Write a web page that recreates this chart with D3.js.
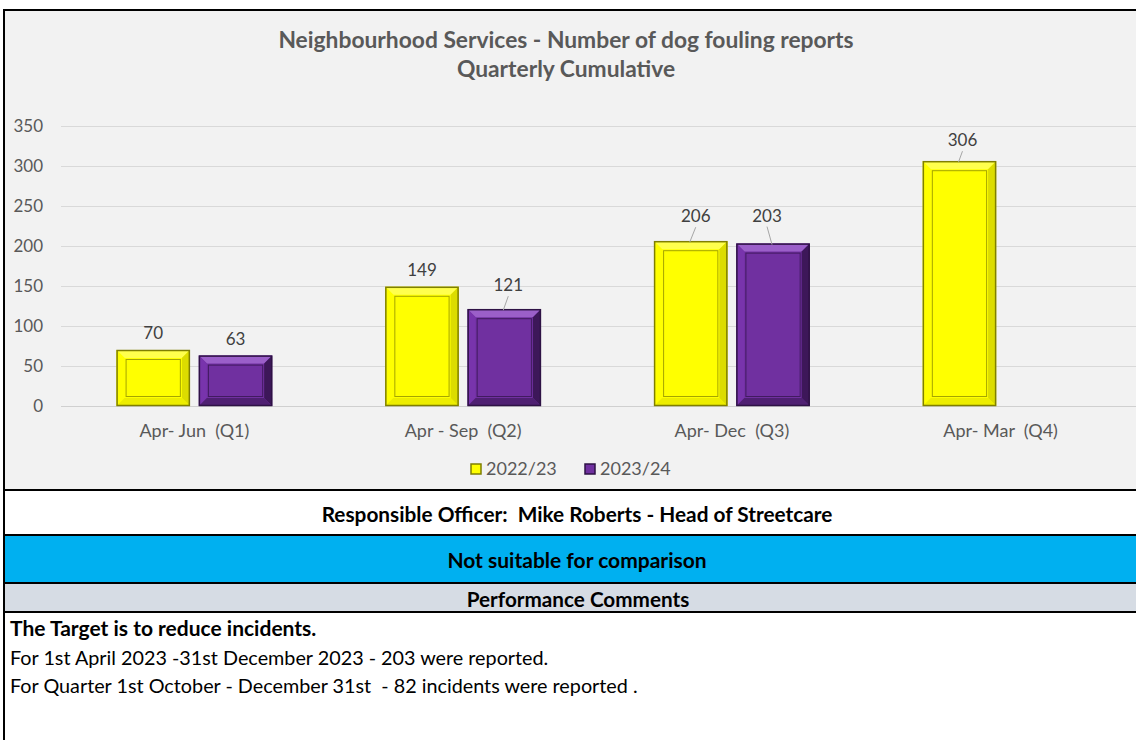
<!DOCTYPE html>
<html>
<head>
<meta charset="utf-8">
<script src="https://cdn.jsdelivr.net/npm/d3@7"></script>
<style>
  body { margin: 0; background: #fff; }
  text { font-family: Lato, "Open Sans", sans-serif; }
</style>
</head>
<body>
<div id="chart"></div>
<script>
// data
var quarters = ["Apr- Jun  (Q1)", "Apr - Sep  (Q2)", "Apr- Dec  (Q3)", "Apr- Mar  (Q4)"];
var seriesNames = ["2022/23", "2023/24"];
var values2022 = [70, 149, 206, 306];
var values2023 = [63, 121, 203, null];
var yTicks = [0, 50, 100, 150, 200, 250, 300, 350];
var seriesColors = ["#ffff00", "#7030a0"];

var titleLines = ["Neighbourhood Services - Number of dog fouling reports", "Quarterly Cumulative"];
var officerText = "Responsible Officer:  Mike Roberts - Head of Streetcare";
var comparisonText = "Not suitable for comparison";
var commentsHeader = "Performance Comments";
var commentLines = [
  "The Target is to reduce incidents.",
  "For 1st April 2023 -31st December 2023 - 203 were reported.",
  "For Quarter 1st October - December 31st  - 82 incidents were reported ."
];

var W = 1136, H = 740;

var svg = d3.select("#chart")
            .append("svg")
            .attr("width", W)
            .attr("height", H);

// ---- panels / table rows
svg.append("rect").attr("x", 0).attr("y", 0).attr("width", W).attr("height", H).attr("fill", "#fff");
svg.append("rect").attr("x", 5).attr("y", 11).attr("width", W - 5).attr("height", 479).attr("fill", "#f2f2f2");
svg.append("rect").attr("x", 5).attr("y", 536).attr("width", W - 5).attr("height", 47).attr("fill", "#00b0f0");
svg.append("rect").attr("x", 5).attr("y", 584).attr("width", W - 5).attr("height", 28).attr("fill", "#d6dce4");

// borders
var borders = [[4, 10, W, 10], [4, 490, W, 490], [4, 535, W, 535], [4, 583, W, 583], [4, 612, W, 612]];
svg.selectAll("line.border")
    .data(borders)
    .enter()
    .append("line")
    .attr("class", "border")
    .attr("x1", function(d){ return d[0]; })
    .attr("y1", function(d){ return d[1]; })
    .attr("x2", function(d){ return d[2]; })
    .attr("y2", function(d){ return d[3]; })
    .attr("stroke", "#000")
    .attr("stroke-width", 2);
svg.append("line").attr("x1", 4).attr("y1", 9).attr("x2", 4).attr("y2", H)
    .attr("stroke", "#000").attr("stroke-width", 2);

// ---- chart
var x0 = d3.scaleBand()
            .domain(quarters)
            .range([60, 1135])
            .padding(0);

var x1 = d3.scaleBand()
            .domain(seriesNames)
            .range([0, x0.bandwidth()])
            .paddingInner(0.11)
            .paddingOuter(0.6875);

var y = d3.scaleLinear()
            .domain([0, 350])
            .range([406, 126]);

// gridlines
svg.append("g")
    .selectAll("line")
    .data(yTicks)
    .enter()
    .append("line")
    .attr("x1", 61)
    .attr("x2", W)
    .attr("y1", function(d){ return y(d) + 0.5; })
    .attr("y2", function(d){ return y(d) + 0.5; })
    .attr("stroke", function(d){ return d === 0 ? "#d0d0d0" : "#d9d9d9"; })
    .attr("stroke-width", 1);

// y axis
var yAxis = svg.append("g")
    .attr("transform", "translate(43,0)")
    .call(d3.axisLeft(y).tickValues(yTicks).tickSize(0).tickPadding(0));
yAxis.select(".domain").remove();
yAxis.selectAll("text")
    .attr("fill", "#595959")
    .style("font-size", "17px");

// x axis
var xAxis = svg.append("g")
    .attr("transform", "translate(0,406)")
    .call(d3.axisBottom(x0).tickSize(0).tickPadding(18));
xAxis.select(".domain").remove();
xAxis.selectAll("text")
    .attr("fill", "#595959")
    .style("font-size", "18px")
    .style("white-space", "pre");

// title
svg.selectAll("text.title")
    .data(titleLines)
    .enter()
    .append("text")
    .attr("class", "title")
    .attr("x", 566)
    .attr("y", function(d, i){ return 48 + i * 29; })
    .attr("text-anchor", "middle")
    .attr("fill", "#595959")
    .style("font-size", "22.8px")
    .style("font-weight", "bold")
    .text(function(d){ return d; });

// bars
var rows = [];
quarters.forEach(function(q, i){
    [values2022[i], values2023[i]].forEach(function(v, s){
        if (v != null) rows.push({q: q, qi: i, s: s, name: seriesNames[s], v: v});
    });
});

function bevelBar(g, d){
    var bx = x0(d.q) + x1(d.name), bw = x1.bandwidth();
    var by = y(d.v), bh = y(0) - y(d.v);
    var b = 8;
    var base = d3.color(seriesColors[d.s]);
    var edge = d.s === 0 ? "#7f7f00" : "#2e1245";
    var light = d.s === 0 ? "#ffff4d" : "#9b5fc9";
    var dark = d.s === 0 ? "#eded00" : "#4f2072";
    var darker = d.s === 0 ? "#dcdc00" : "#3d1759";

    g.append("rect")
        .attr("x", bx).attr("y", by).attr("width", bw).attr("height", bh)
        .attr("fill", base);
    // top
    g.append("polygon")
        .attr("points", [[bx, by], [bx + bw, by], [bx + bw - b, by + b], [bx + b, by + b]].join(" "))
        .attr("fill", light);
    // left
    g.append("polygon")
        .attr("points", [[bx, by], [bx + b, by + b], [bx + b, by + bh - b], [bx, by + bh]].join(" "))
        .attr("fill", base.brighter(0.2));
    // right
    g.append("polygon")
        .attr("points", [[bx + bw, by], [bx + bw, by + bh], [bx + bw - b, by + bh - b], [bx + bw - b, by + b]].join(" "))
        .attr("fill", darker);
    // bottom
    g.append("polygon")
        .attr("points", [[bx, by + bh], [bx + bw, by + bh], [bx + bw - b, by + bh - b], [bx + b, by + bh - b]].join(" "))
        .attr("fill", dark);
    // inner face line
    g.append("rect")
        .attr("x", bx + b + 1.5).attr("y", by + b + 1.5)
        .attr("width", bw - 2 * b - 3).attr("height", bh - 2 * b - 3)
        .attr("fill", base)
        .attr("stroke", edge).attr("stroke-opacity", 0.7).attr("stroke-width", 1);
    // outer edge
    g.append("rect")
        .attr("x", bx + 0.5).attr("y", by + 0.5).attr("width", bw - 1).attr("height", bh - 1)
        .attr("fill", "none")
        .attr("stroke", edge).attr("stroke-width", 1.5);
}

svg.append("g")
    .selectAll("g")
    .data(rows)
    .enter()
    .append("g")
    .each(function(d){ bevelBar(d3.select(this), d); });

// data labels (some were dragged off the bar in the original, with a leader line)
var labelShift = { "0-3": [3, -4], "0-2": [5, -8], "1-2": [-6, -11], "1-1": [4, -7] };
var labels = svg.append("g");
rows.forEach(function(d){
    var cx = x0(d.q) + x1(d.name) + x1.bandwidth() / 2;
    var top = y(d.v);
    var sh = labelShift[d.s + "-" + d.qi] || [0, 0];
    var tx = cx + sh[0], ty = top - 11 + sh[1];
    if (sh[1] !== 0) {
        labels.append("line")
            .attr("x1", cx - 1).attr("y1", top + 1)
            .attr("x2", tx).attr("y2", ty + 5)
            .attr("stroke", "#a6a6a6").attr("stroke-width", 1);
    }
    labels.append("text")
        .attr("x", tx).attr("y", ty)
        .attr("text-anchor", "middle")
        .attr("fill", "#404040")
        .style("font-size", "17px")
        .text(d.v);
});

// legend
var legend = svg.append("g")
    .selectAll("g")
    .data(seriesNames)
    .enter()
    .append("g")
    .attr("transform", function(d, i){ return "translate(" + (471 + i * 114) + ",464)"; });
legend.append("rect")
    .attr("width", 10).attr("height", 10)
    .attr("fill", function(d, i){ return seriesColors[i]; })
    .attr("stroke", function(d, i){ return i === 0 ? "#7f7f00" : "#2e1245"; })
    .attr("stroke-width", 1.5);
legend.append("text")
    .attr("x", 15).attr("y", 11)
    .attr("fill", "#595959")
    .style("font-size", "18px")
    .text(function(d){ return d; });

// table texts
svg.append("text").attr("x", 577).attr("y", 522).attr("text-anchor", "middle")
    .style("font-size", "20.8px").style("font-weight", "bold").style("white-space", "pre")
    .attr("fill", "#000").text(officerText);
svg.append("text").attr("x", 577).attr("y", 568).attr("text-anchor", "middle")
    .style("font-size", "21px").style("font-weight", "bold")
    .attr("fill", "#000").text(comparisonText);
svg.append("text").attr("x", 578).attr("y", 607).attr("text-anchor", "middle")
    .style("font-size", "20.7px").style("font-weight", "bold")
    .attr("fill", "#000").text(commentsHeader);

svg.selectAll("text.comment")
    .data(commentLines)
    .enter()
    .append("text")
    .attr("class", "comment")
    .attr("x", 10)
    .attr("y", function(d, i){ return 636 + i * 28.5; })
    .attr("fill", "#000")
    .style("font-size", function(d, i){ return i === 0 ? "21px" : "19.8px"; })
    .style("font-weight", function(d, i){ return i === 0 ? "bold" : "normal"; })
    .style("white-space", "pre")
    .text(function(d){ return d; });
</script>
</body>
</html>
